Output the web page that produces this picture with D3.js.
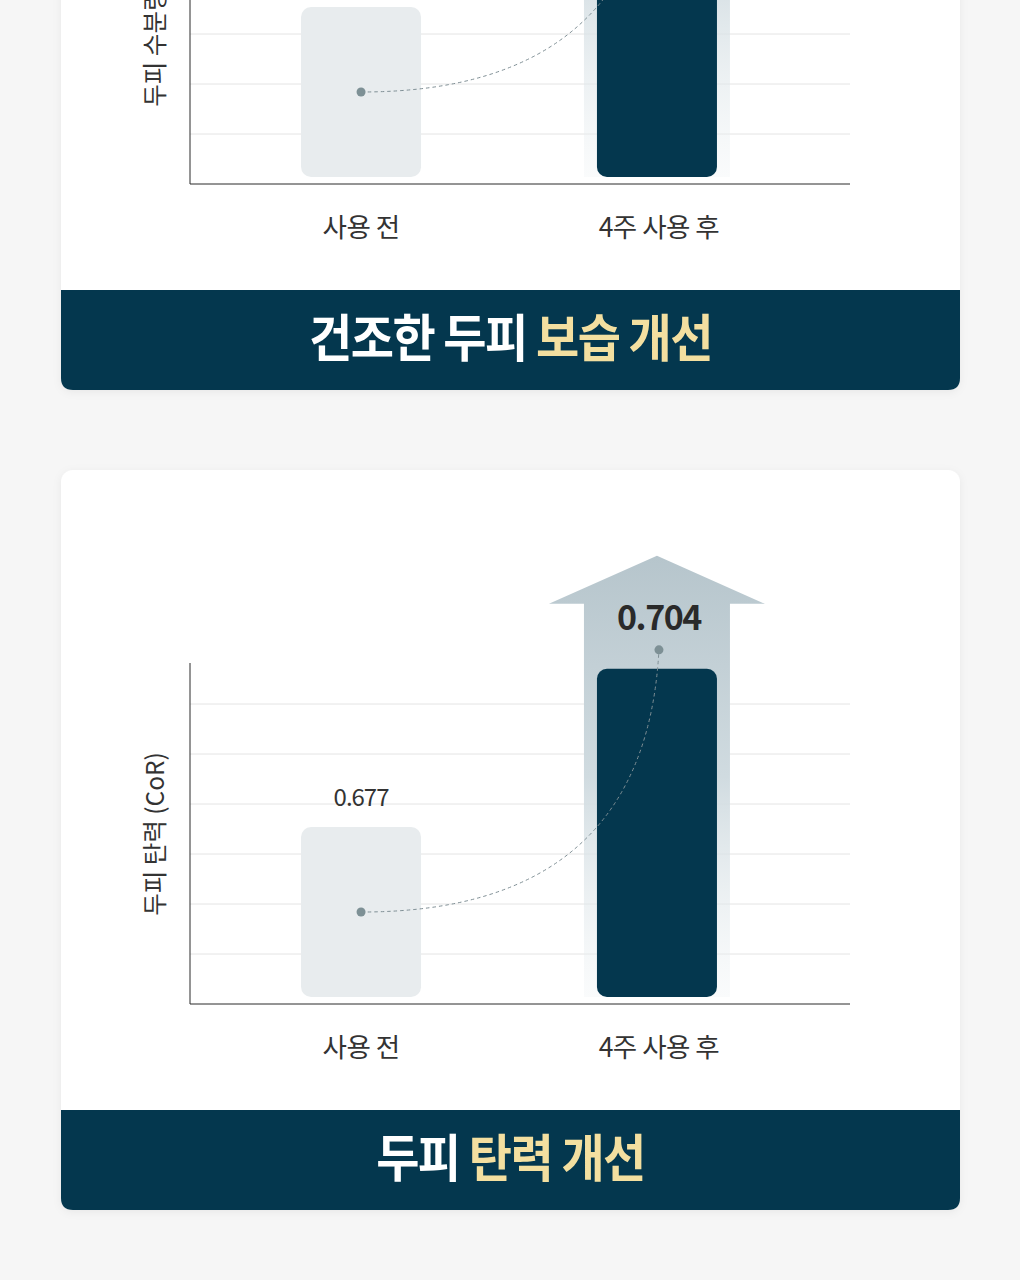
<!DOCTYPE html>
<html>
<head>
<meta charset="utf-8">
<script src="https://cdn.jsdelivr.net/npm/d3@7"></script>
<style>
    html, body { margin: 0; padding: 0; background: #f6f6f6; }
    #chart { width: 1020px; height: 1280px; overflow: hidden; }
    text { font-family: "Noto Sans CJK KR", "Noto Sans", sans-serif; }
</style>
</head>
<body>
<div id="chart"></div>
<script>
// data
const categories = ["사용 전", "4주 사용 후"];

const moistureValues = [24.6, 41.2];      // top card (value labels sit above the visible area)
const moistureDomain = [6.74, 41.83];
const moistureLabel = "두피 수분량 (A.U.)";
const moistureTitle = [["건조한 두피 ", "white"], ["보습 개선", "accent"]];

const elasticityValues = [0.677, 0.704];
const elasticityDomain = [0.648, 0.705];
const elasticityLabel = "두피 탄력 (CoR)";
const elasticityTitle = [["두피 ", "white"], ["탄력 개선", "accent"]];

const gridSteps = [1, 2, 3, 4, 5, 6];

const colors = {
    page: "#f6f6f6",
    card: "#ffffff",
    navy: "#04374e",
    before: "#e8ecee",
    accent: "#f3dfa0",
    grid: "#e4e4e4",
    axis: "#2a2a2a",
    dot: "#7d9095",
    text: "#333333"
};

const width = 1020, height = 1280;
const cardX = 61, cardW = 899, cardH = 740;
const plotLeft = 190, plotRight = 850;
const plotTop = 193, axisY = 534, barBottom = 527;
const barW = 120;

const svg = d3.select("#chart")
    .append("svg")
    .attr("width", width)
    .attr("height", height);

svg.append("rect").attr("width", width).attr("height", height).attr("fill", colors.page);

const defs = svg.append("defs");
const shadow = defs.append("filter").attr("id", "cardShadow")
    .attr("x", "-5%").attr("y", "-5%").attr("width", "110%").attr("height", "110%");
shadow.append("feDropShadow")
    .attr("dx", 0).attr("dy", 2).attr("stdDeviation", 4)
    .attr("flood-color", "#000").attr("flood-opacity", 0.06);

const arrowGrad = defs.append("linearGradient").attr("id", "arrowGrad")
    .attr("x1", 0).attr("y1", 0).attr("x2", 0).attr("y2", 1);
arrowGrad.append("stop").attr("offset", "0%").attr("stop-color", "#b6c5cc");
arrowGrad.append("stop").attr("offset", "50%").attr("stop-color", "#d0dbe0");
arrowGrad.append("stop").attr("offset", "100%").attr("stop-color", "#eef2f4").attr("stop-opacity", 0.3);

const x = d3.scalePoint()
    .domain(categories)
    .range([plotLeft, plotRight - 22])
    .padding(0.578);

const gridY = d3.scaleLinear().domain([0, 6]).range([axisY, axisY - 300]);

function drawCard(top, values, domain, yLabel, title) {
    const g = svg.append("g").attr("transform", `translate(0, ${top})`);

    // card + bottom banner
    g.append("rect")
        .attr("x", cardX).attr("y", 0)
        .attr("width", cardW).attr("height", cardH)
        .attr("rx", 12)
        .attr("fill", colors.card)
        .attr("filter", "url(#cardShadow)");

    const r = 12, bTop = 640;
    const banner = d3.path();
    banner.moveTo(cardX, bTop);
    banner.lineTo(cardX + cardW, bTop);
    banner.lineTo(cardX + cardW, cardH - r);
    banner.quadraticCurveTo(cardX + cardW, cardH, cardX + cardW - r, cardH);
    banner.lineTo(cardX + r, cardH);
    banner.quadraticCurveTo(cardX, cardH, cardX, cardH - r);
    banner.closePath();
    g.append("path").attr("d", banner.toString()).attr("fill", colors.navy);

    // title is a bit taller than wide in the original, stretch it a little
    const t = g.append("text")
        .attr("transform", `translate(${cardX + cardW / 2}, 707) scale(1, 1.08)`)
        .attr("text-anchor", "middle")
        .attr("font-size", "47px")
        .attr("font-weight", 700)
        .attr("letter-spacing", "-1.5px");
    title.forEach(([s, c]) => {
        t.append("tspan").attr("fill", c === "accent" ? colors.accent : "#ffffff").text(s);
    });

    const y = d3.scaleLinear().domain(domain).range([barBottom, plotTop]);

    // gridlines
    g.selectAll(".grid")
        .data(gridSteps)
        .join("line")
        .attr("class", "grid")
        .attr("x1", plotLeft).attr("x2", plotRight)
        .attr("y1", d => gridY(d)).attr("y2", d => gridY(d))
        .attr("stroke", colors.grid)
        .attr("stroke-width", 1);

    // arrow behind the "after" bar
    const cx2 = x(categories[1]);
    const top2 = y(values[1]);
    const arrow = d3.path();
    arrow.moveTo(cx2, top2 - 113);
    arrow.lineTo(cx2 + 108, top2 - 65);
    arrow.lineTo(cx2 + 73, top2 - 65);
    arrow.lineTo(cx2 + 73, barBottom);
    arrow.lineTo(cx2 - 73, barBottom);
    arrow.lineTo(cx2 - 73, top2 - 65);
    arrow.lineTo(cx2 - 108, top2 - 65);
    arrow.closePath();
    g.append("path").attr("d", arrow.toString()).attr("fill", "url(#arrowGrad)");

    // bars
    g.selectAll(".bar")
        .data(values)
        .join("rect")
        .attr("class", "bar")
        .attr("x", (d, i) => x(categories[i]) - barW / 2)
        .attr("y", d => y(d))
        .attr("width", barW)
        .attr("height", d => barBottom - y(d))
        .attr("rx", 10)
        .attr("fill", (d, i) => i === 0 ? colors.before : colors.navy);

    // axes
    g.append("line")
        .attr("x1", plotLeft).attr("x2", plotLeft)
        .attr("y1", plotTop).attr("y2", axisY)
        .attr("stroke", colors.axis).attr("stroke-width", 1);
    g.append("line")
        .attr("x1", plotLeft).attr("x2", plotRight)
        .attr("y1", axisY).attr("y2", axisY)
        .attr("stroke", colors.axis).attr("stroke-width", 1);

    g.append("text")
        .attr("transform", `translate(164, 364) rotate(-90)`)
        .attr("text-anchor", "middle")
        .attr("font-size", "24.5px")
        .attr("fill", colors.text)
        .text(yLabel);

    g.selectAll(".xlabel")
        .data(categories)
        .join("text")
        .attr("class", "xlabel")
        .attr("x", d => x(d) + (d === categories[1] ? 2 : 0))
        .attr("y", 587)
        .attr("text-anchor", "middle")
        .attr("font-size", "26.5px")
        .attr("letter-spacing", "-0.5px")
        .attr("fill", colors.text)
        .text(d => d);

    // dashed connector + dots
    const cx1 = x(categories[0]);
    const p0 = [cx1, (y(values[0]) + barBottom) / 2];
    const p1 = [cx2 + 2, top2 - 19];
    const curve = d3.path();
    curve.moveTo(p0[0], p0[1]);
    curve.quadraticCurveTo(p1[0] - 14, p0[1], p1[0], p1[1]);
    g.append("path")
        .attr("d", curve.toString())
        .attr("fill", "none")
        .attr("stroke", "#7f8f95")
        .attr("stroke-width", 1)
        .attr("stroke-dasharray", "3.5,3");

    g.selectAll(".dot")
        .data([p0, p1])
        .join("circle")
        .attr("class", "dot")
        .attr("cx", d => d[0]).attr("cy", d => d[1])
        .attr("r", 4.5)
        .attr("fill", colors.dot);

    // value labels
    g.append("text")
        .attr("x", cx1)
        .attr("y", y(values[0]) - 21)
        .attr("text-anchor", "middle")
        .attr("font-size", "24px")
        .attr("letter-spacing", "-1px")
        .attr("fill", colors.text)
        .text(values[0]);
    g.append("text")
        .attr("x", cx2 + 2)
        .attr("y", top2 - 39)
        .attr("text-anchor", "middle")
        .attr("font-size", "34px")
        .attr("font-weight", 700)
        .attr("letter-spacing", "-1.5px")
        .attr("fill", "#2a2a2a")
        .text(values[1]);
}

drawCard(-350, moistureValues, moistureDomain, moistureLabel, moistureTitle);
drawCard(470, elasticityValues, elasticityDomain, elasticityLabel, elasticityTitle);
</script>
</body>
</html>
